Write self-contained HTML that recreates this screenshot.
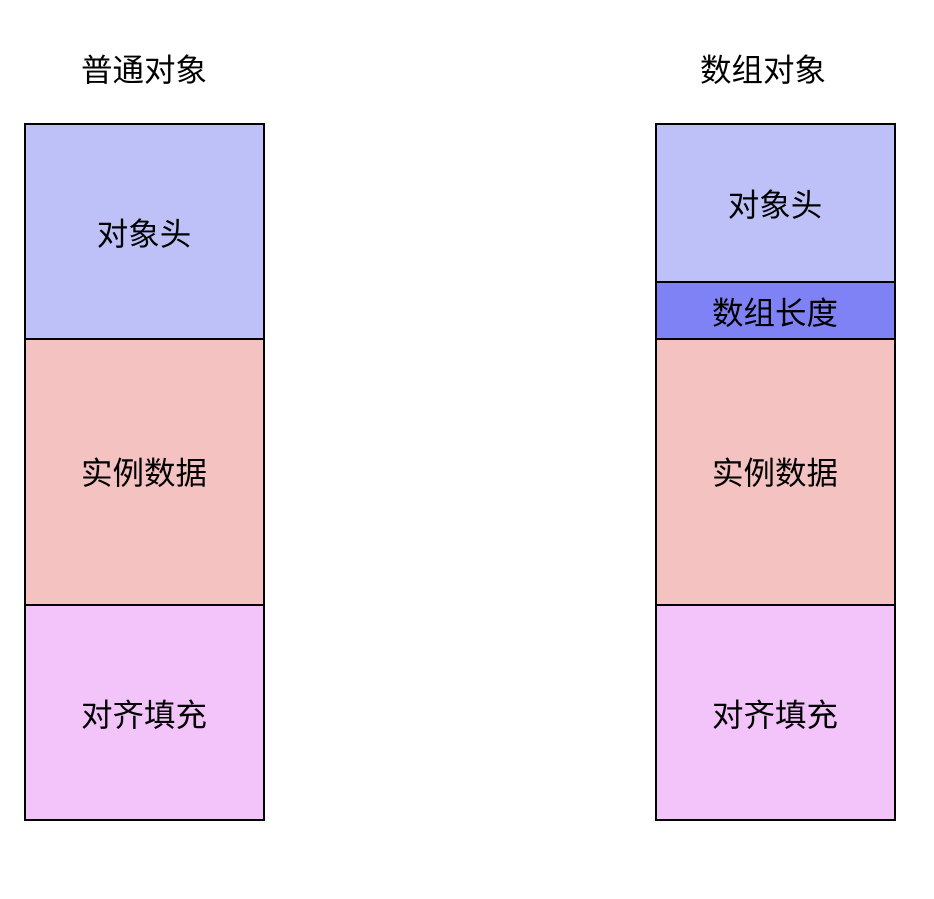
<!DOCTYPE html>
<html><head><meta charset="utf-8"><style>
html,body{margin:0;padding:0;background:#fff;}
svg text{font-family:"Liberation Sans","Noto Sans CJK SC",sans-serif;font-size:31.5px;fill:#000;text-anchor:middle;dominant-baseline:central;}
</style></head><body>
<svg width="934" height="894" xmlns="http://www.w3.org/2000/svg">
<rect width="934" height="894" fill="#fff"/>
<text x="144" y="70">普通对象</text>
<text x="763" y="70">数组对象</text>
<g stroke="#000" stroke-width="2">
<rect x="25" y="124" width="239" height="215" fill="#BEC0F8"/>
<rect x="25" y="339" width="239" height="266" fill="#F4C2C1"/>
<rect x="25" y="605" width="239" height="215" fill="#F2C4F9"/>
<rect x="656" y="124" width="239" height="158" fill="#BEC0F8"/>
<rect x="656" y="282" width="239" height="57" fill="#7F82F4"/>
<rect x="656" y="339" width="239" height="266" fill="#F4C2C1"/>
<rect x="656" y="605" width="239" height="215" fill="#F2C4F9"/>
</g>
<text x="144" y="234">对象头</text>
<text x="144" y="473">实例数据</text>
<text x="144" y="715">对齐填充</text>
<text x="775" y="205">对象头</text>
<text x="775" y="313">数组长度</text>
<text x="775" y="473">实例数据</text>
<text x="775" y="715">对齐填充</text>
</svg>
</body></html>
